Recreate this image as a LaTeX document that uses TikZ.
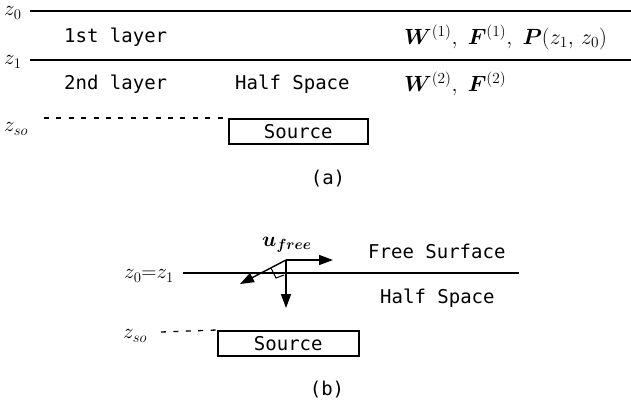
\RequirePackage{fix-cm}
\documentclass[tikz,border=0pt]{standalone}
\usepackage{amsmath,bm}
\usepackage{fontspec}
\newfontfamily\monof{DejaVu Sans Mono}
\usetikzlibrary{arrows.meta}
\begin{document}
\begin{tikzpicture}[x=1pt,y=-1pt,
  txt/.style={font=\monof\fontsize{19}{22}\selectfont, inner sep=0pt},
  mth/.style={font=\fontsize{22}{26}\selectfont, inner sep=0pt},
  zlab/.style={font=\fontsize{21}{25}\selectfont, inner sep=0pt},
  bnd/.style={line width=1.3pt},
  dsh/.style={line width=1.3pt, dash pattern=on 5pt off 7.4pt},
  srcbox/.style={draw, line width=1.6pt, minimum width=139pt, minimum height=25pt, inner sep=0pt, anchor=north west, font=\monof\fontsize{19}{22}\selectfont},
  arr/.style={line width=1.4pt, -{Triangle[length=14pt,width=10pt]}}]
\useasboundingbox (0,0) rectangle (631,405);
% ---------- (a) ----------
\node[zlab, anchor=west] (z0a) at (4,13) {$z_0$};
\node[zlab, anchor=west] (z1a) at (4,62) {$z_1$};
\coordinate (l0s) at (30,11);  \coordinate (l0e) at (631,11);
\coordinate (l1s) at (30,60);  \coordinate (l1e) at (631,60);
\draw[bnd] (l0s) -- (l0e);
\draw[bnd] (l1s) -- (l1e);
\node[txt, anchor=west] (lay1) at (64,37) {1st layer};
\node[mth, anchor=west] (wf1) at (404,37) {$\bm{W}^{(1)},\ \bm{F}^{(1)},\ \bm{P}(z_1,\, z_0)$};
\node[txt, anchor=west] (lay2) at (64,84) {2nd layer};
\node[txt, anchor=west] (hsa) at (235,84) {Half Space};
\node[mth, anchor=west] (wf2) at (404,84) {$\bm{W}^{(2)},\ \bm{F}^{(2)}$};
\node[zlab, anchor=west] (zsoa) at (4,129) {$z_{so}$};
\coordinate (dsa) at (44,118);
\node[srcbox] (srca) at (228,118) {Source};
\draw[dsh] (dsa) -- (srca.north west);
\node[txt] (capa) at (328,179) {(a)};
% ---------- (b) ----------
\node[zlab, anchor=west] (ufree) at (262,245) {$\bm{u}_{\bm{free}}$};
\node[txt, anchor=west] (fs) at (368,251) {Free Surface};
\node[zlab, anchor=west] (z01) at (124,276) {$z_0{=}z_1$};
\coordinate (lbs) at (183,273); \coordinate (lbe) at (519,273);
\draw[bnd] (lbs) -- (lbe);
\node[txt, anchor=west] (hsb) at (380,298) {Half Space};
\coordinate (O) at (286,260);
\coordinate (ax) at (333,260);
\coordinate (az) at (286,308);
\coordinate (ay) at (240,284);
\draw[arr] (O) -- (ax);
\draw[arr] (O) -- (az);
\draw[arr] (O) -- (ay);
\draw[line width=1pt] (271,268) -- (276,278) -- (284,275);
\node[zlab, anchor=west] (zsob) at (123,336) {$z_{so}$};
\coordinate (dsb) at (161,332);
\node[srcbox, minimum width=141pt] (srcb) at (217,330) {Source};
\draw[dsh] (dsb) -- (srcb.north west);
\node[txt] (capb) at (327,390) {(b)};
\end{tikzpicture}
\end{document}
